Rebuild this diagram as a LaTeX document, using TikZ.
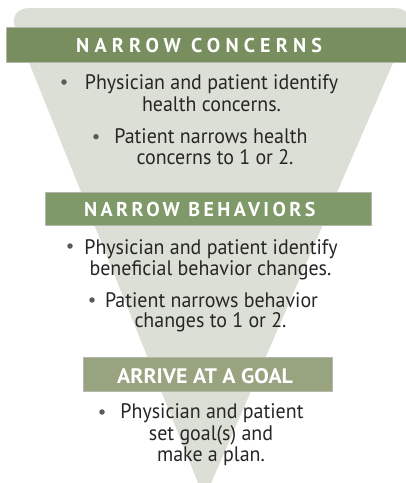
\documentclass[tikz,border=0pt]{standalone}
\usepackage{fontspec}
\setmainfont{PT Sans}
\newfontfamily\bodyfont[FakeStretch=0.95]{PT Sans}
\newfontfamily\titlefontA[LetterSpace=26]{PT Sans}
\newfontfamily\titlefontB[LetterSpace=17]{PT Sans}
\newfontfamily\titlefontC[FakeStretch=1.04]{PT Sans}
\definecolor{funnelgrey}{HTML}{DCDFD5}
\definecolor{bannerA}{HTML}{788E5E}
\definecolor{bannerB}{HTML}{809968}
\definecolor{bannerC}{HTML}{97A47F}
\definecolor{bannerline}{HTML}{B4B8AC}
\definecolor{textdark}{HTML}{262626}
\definecolor{bulletgrey}{HTML}{5A5A5A}
\tikzset{
  banner/.style={draw=bannerline, line width=0.8pt},
  bodyline/.style={anchor=base, inner sep=0pt, text=textdark, font=\bodyfont\fontsize{21}{22}\selectfont},
  titletext/.style={anchor=base west, inner sep=0pt, text=white},
  bulletdot/.style={circle, fill=bulletgrey, inner sep=0pt, minimum size=5.5pt}
}
\begin{document}
\begin{tikzpicture}[x=1pt,y=-1pt]
\useasboundingbox (0,0) rectangle (406,483);
\clip (0,0) rectangle (406,483);
% funnel
\fill[funnelgrey] (210,8) [rounded corners=22pt] -- (416.8,8) [rounded corners=10pt] -- (204.4,498.7) [rounded corners=22pt] -- (7.1,8) -- cycle;
% banners
\filldraw[banner, fill=bannerA] (6,27.3) rectangle (412,62.3);
\filldraw[banner, fill=bannerB] (45,192) rectangle (371,225);
\filldraw[banner, fill=bannerC] (83.3,357.7) rectangle (332.7,391.7);
% titles
\node[titletext, font=\titlefontA\bfseries\fontsize{20}{22}\selectfont] (tA) at (76,52.7) {NARROW CONCERNS};
\node[titletext, font=\titlefontB\bfseries\fontsize{20}{22}\selectfont] (tB) at (84,216.7) {NARROW BEHAVIORS};
\node[titletext, font=\titlefontC\bfseries\fontsize{21}{22}\selectfont] (tC) at (117,383.3) {ARRIVE AT A GOAL};
% block 1
\node[bulletdot] (b1) at (64,82) {};
\node[bodyline] (l1a) at (211.5,89.5) {Physician and patient identify};
\node[bodyline] (l1b) at (211.5,111.3) {health concerns.};
\node[bulletdot] (b2) at (96,136.7) {};
\node[bodyline] (l2a) at (211,143.3) {Patient narrows health};
\node[bodyline] (l2b) at (215,164.5) {concerns to 1 or 2.};
% block 2
\node[bulletdot] (b3) at (70,246) {};
\node[bodyline] (l3a) at (211,254) {Physician and patient identify};
\node[bodyline] (l3b) at (210.5,275) {beneficial behavior changes.};
\node[bulletdot] (b4) at (92,300) {};
\node[bodyline] (l4a) at (211.5,307) {Patient narrows behavior};
\node[bodyline] (l4b) at (210.5,327.5) {changes to 1 or 2.};
% block 3
\node[bulletdot] (b5) at (102,412) {};
\node[bodyline] (l5a) at (212,418.3) {Physician and patient};
\node[bodyline] (l5b) at (211,440.5) {set goal(s) and};
\node[bodyline] (l5c) at (211,461.7) {make a plan.};
\end{tikzpicture}
\end{document}
